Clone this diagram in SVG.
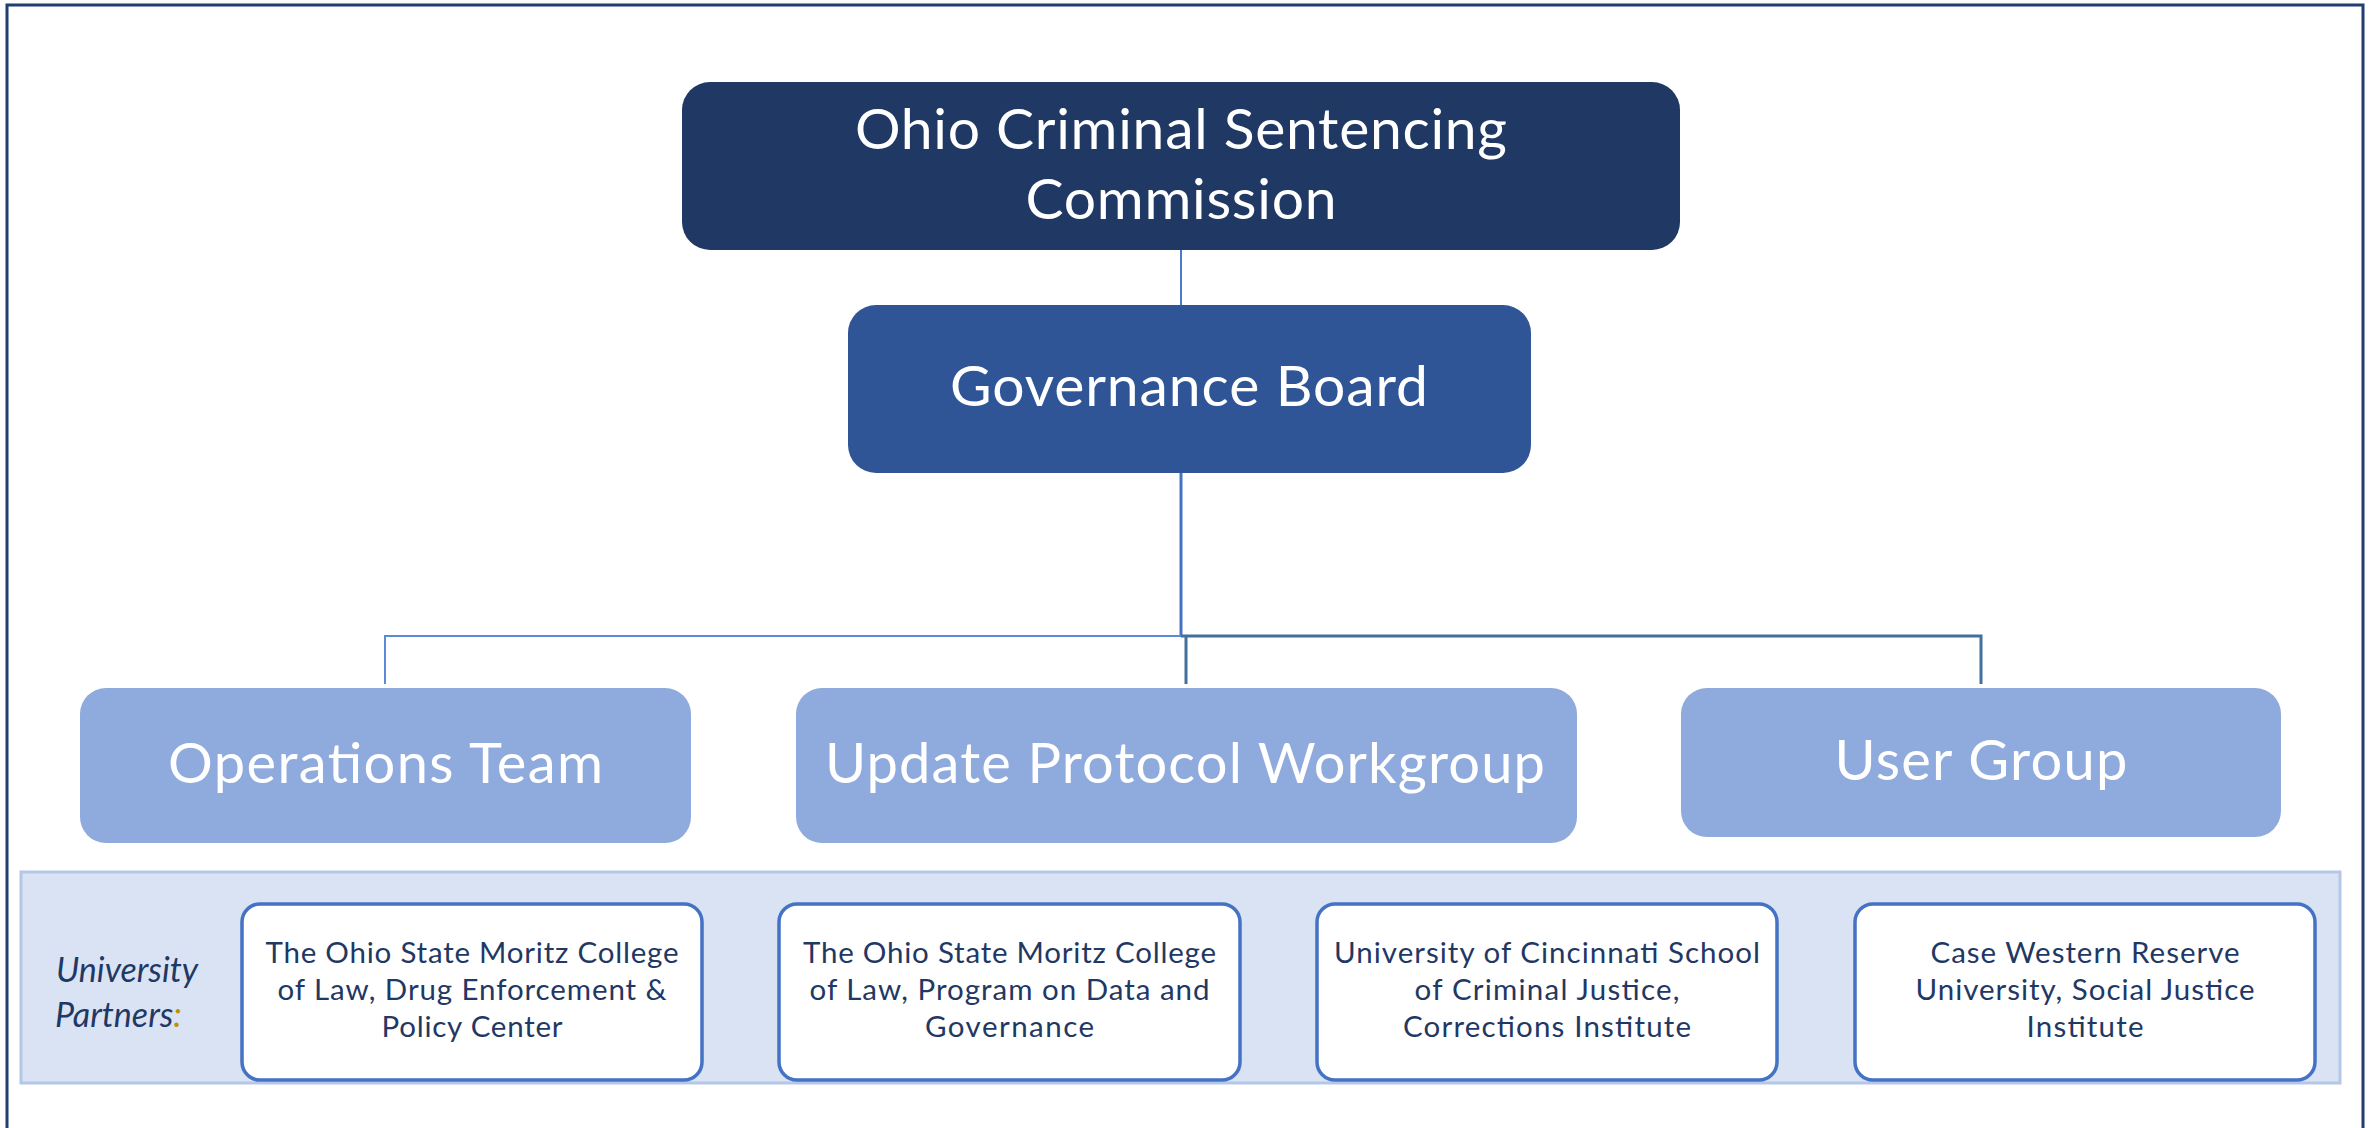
<svg xmlns="http://www.w3.org/2000/svg" width="2371" height="1128" viewBox="0 0 2371 1128">
<style>
.t{font-family:Lato,"Open Sans","Liberation Sans",sans-serif;fill:#ffffff;text-anchor:middle}
.big{font-size:57px}
.mid{font-size:56px}
.p{font-family:Lato,"Open Sans","Liberation Sans",sans-serif;font-size:29.5px;fill:#1f3864;text-anchor:middle}
.pb{fill:#ffffff;stroke:#4472c4;stroke-width:3.5}
.up{font-family:Lato,"Open Sans","Liberation Sans",sans-serif;font-size:34px;font-style:italic;fill:#1f3864}
.c{fill:none;stroke-linecap:butt}
</style>
<rect x="0" y="0" width="2371" height="1128" fill="#ffffff"/>
<rect id="frame" x="7" y="5" width="2356" height="1200" fill="none" stroke="#203e70" stroke-width="3"/>
<g id="connectors">
<line class="c" x1="1181" y1="250" x2="1181" y2="305" stroke="#4a7cc7" stroke-width="2"/>
<line class="c" x1="1181" y1="473" x2="1181" y2="637" stroke="#4472c4" stroke-width="3"/>
<polyline class="c" points="385,684 385,636 1181,636" stroke="#5b8ad6" stroke-width="2"/>
<polyline class="c" points="1181,636 1981,636 1981,684" stroke="#41719c" stroke-width="3"/>
<line class="c" x1="1186" y1="636" x2="1186" y2="684" stroke="#41719c" stroke-width="3"/>
</g>
<g id="commission">
<rect x="682" y="82" width="998" height="168" rx="28" fill="#203864"/>
<text class="t big" x="1181" y="149" textLength="652">Ohio Criminal Sentencing</text>
<text class="t big" x="1181" y="219" textLength="311">Commission</text>
</g>
<g id="governance">
<rect x="848" y="305" width="683" height="168" rx="28" fill="#2f5597"/>
<text class="t big" x="1189" y="406" textLength="478">Governance Board</text>
</g>
<g id="operations">
<rect x="80" y="688" width="611" height="155" rx="26" fill="#8faadc"/>
<text class="t mid" x="385.5" y="783" textLength="435">Operations Team</text>
</g>
<g id="update">
<rect x="796" y="688" width="781" height="155" rx="26" fill="#8faadc"/>
<text class="t mid" x="1185" y="783" textLength="720">Update Protocol Workgroup</text>
</g>
<g id="usergroup">
<rect x="1681" y="688" width="600" height="149" rx="26" fill="#8faadc"/>
<text class="t mid" x="1981" y="780" textLength="293">User Group</text>
</g>
<g id="partners">
<rect x="21" y="872" width="2319" height="211" fill="#dae3f3" stroke="#b4c7e7" stroke-width="3"/>
<text class="up" x="56" y="982">University</text>
<text class="up" x="55" y="1027">Partners<tspan fill="#bf9000">:</tspan></text>
</g>
<g id="partner1">
<rect class="pb" x="242" y="904" width="460" height="176" rx="18"/>
<text class="p" x="472" y="963" textLength="413">The Ohio State Moritz College</text>
<text class="p" x="472" y="1000" textLength="389">of Law, Drug Enforcement &amp;</text>
<text class="p" x="472" y="1037" textLength="181">Policy Center</text>
</g>
<g id="partner2">
<rect class="pb" x="779" y="904" width="461" height="176" rx="18"/>
<text class="p" x="1009.5" y="963" textLength="413">The Ohio State Moritz College</text>
<text class="p" x="1009.5" y="1000" textLength="400">of Law, Program on Data and</text>
<text class="p" x="1009.5" y="1037" textLength="169">Governance</text>
</g>
<g id="partner3">
<rect class="pb" x="1317" y="904" width="460" height="176" rx="18"/>
<text class="p" x="1547" y="963" textLength="426">University of Cincinnati School</text>
<text class="p" x="1547" y="1000" textLength="265">of Criminal Justice,</text>
<text class="p" x="1547" y="1037" textLength="288">Corrections Institute</text>
</g>
<g id="partner4">
<rect class="pb" x="1855" y="904" width="460" height="176" rx="18"/>
<text class="p" x="2085" y="963" textLength="309">Case Western Reserve</text>
<text class="p" x="2085" y="1000" textLength="339">University, Social Justice</text>
<text class="p" x="2085" y="1037" textLength="117">Institute</text>
</g>
</svg>
